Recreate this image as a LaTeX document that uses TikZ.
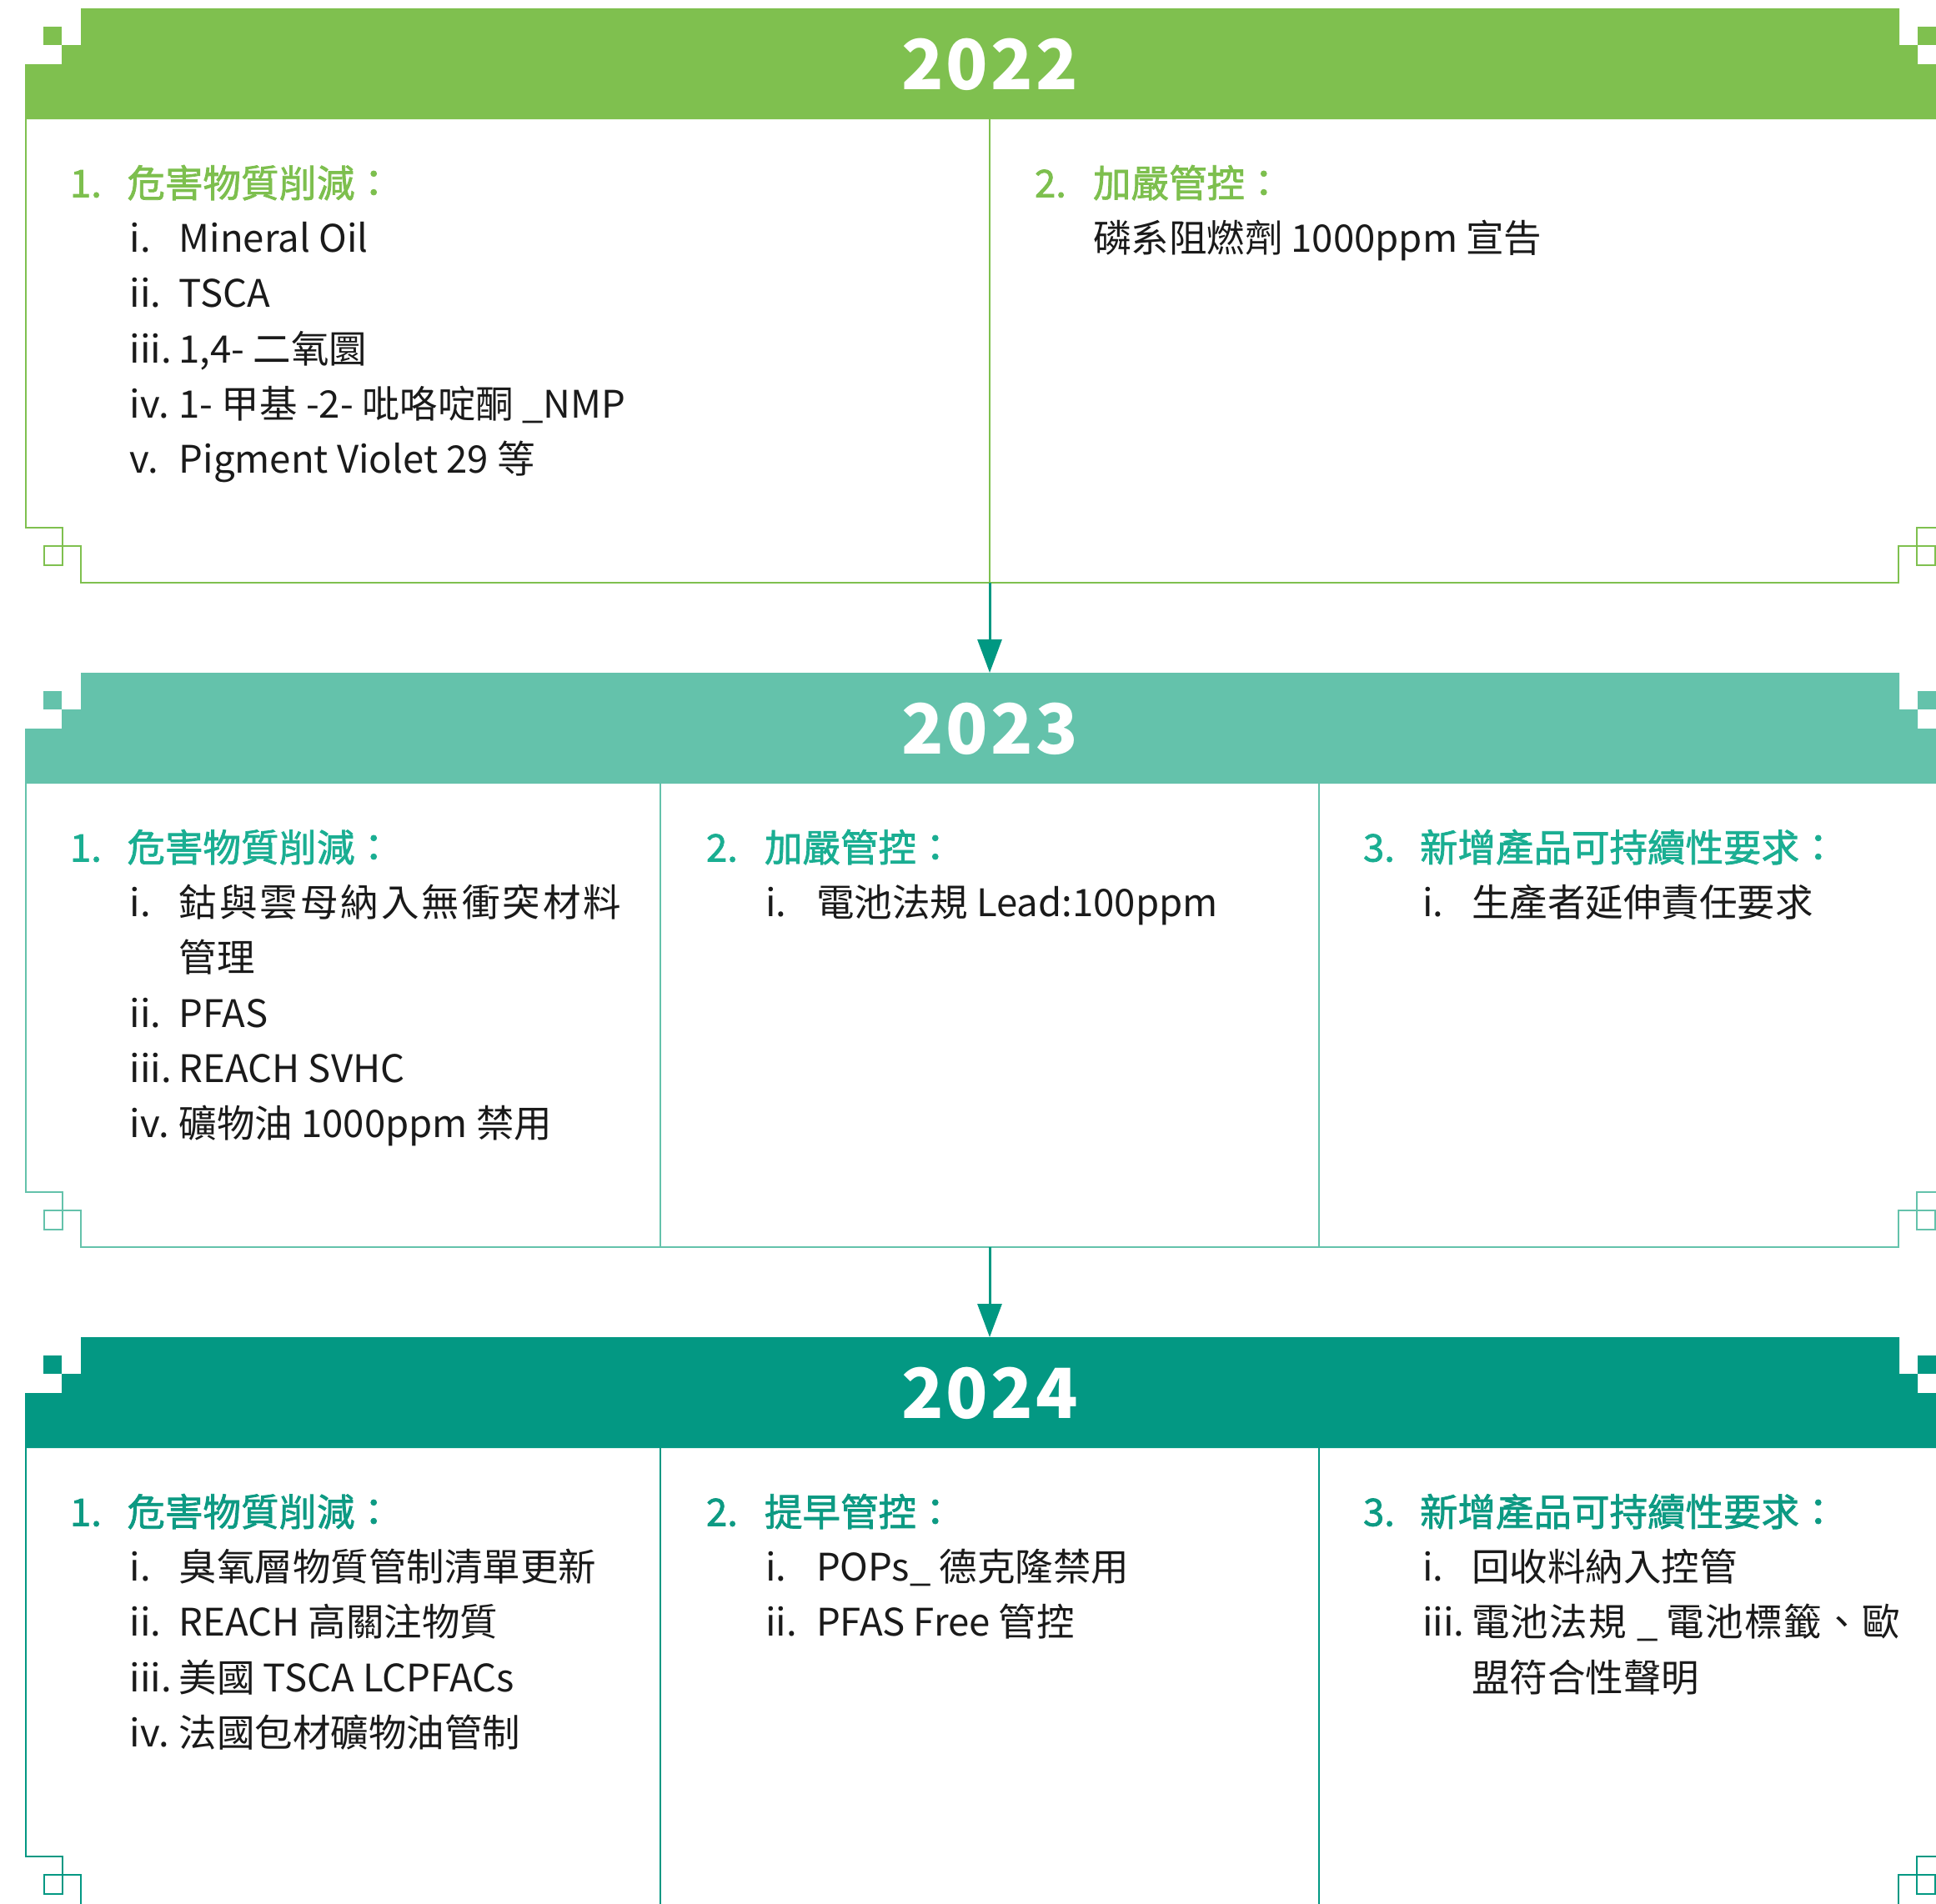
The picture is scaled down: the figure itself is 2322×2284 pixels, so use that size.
\documentclass[tikz,border=0pt]{standalone}
\usepackage{fontspec}
\setmainfont{Noto Sans CJK TC}
\newfontfamily\medfont{Noto Sans CJK TC}[FakeBold=1.6]
\usetikzlibrary{arrows.meta}
\definecolor{gA}{HTML}{7FC04F}
\definecolor{tB}{HTML}{64C2AB}
\definecolor{tC}{HTML}{039883}
\definecolor{hA}{HTML}{7DBF4E}
\definecolor{hB}{HTML}{1AAE92}
\definecolor{hC}{HTML}{0D9A83}
\definecolor{arr}{HTML}{009882}
\definecolor{ink}{HTML}{1A1A1A}
\newcommand\lsp[2]{\def\lspk{#1}\lspA#2\relax}
\def\lspA#1{\ifx\relax#1\else#1\kern\lspk\expandafter\lspA\fi}
\tikzset{
 body/.style={anchor=base west, inner sep=0pt, outer sep=0pt, font=\fontsize{45.5}{50}\selectfont, text=ink},
 head/.style={anchor=base west, inner sep=0pt, outer sep=0pt, font=\medfont\fontsize{45.5}{50}\selectfont},
 headnum/.style={head},
 yearlbl/.style={inner sep=0pt, outer sep=0pt, text=white, font=\fontsize{83}{90}\selectfont\bfseries},
 frameline/.style={line width=2.4pt, line join=miter},
 divline/.style={line width=2pt},
 conn/.style={draw=arr, line width=3pt, -{Triangle[width=29pt,length=40pt]}},
}
\newcommand\blockframe[1]{%
 \fill[#1] (30,143) -- (30,77) -- (74,77) -- (74,54) -- (97,54) -- (97,10) -- (2278,10) -- (2278,54) -- (2300,54) -- (2300,77) -- (2344,77) -- (2344,143) -- cycle;
 \fill[#1] (52,32) rectangle (74,54);
 \fill[#1] (2300,32) rectangle (2322,54);
 \draw[frameline, #1] (31,143) -- (31,633) -- (75,633) -- (75,678) -- (53,678) -- (53,655) -- (97,655) -- (97,699) -- (2277,699) -- (2277,655) -- (2321,655) -- (2321,678) -- (2299,678) -- (2299,633) -- (2343,633) -- (2343,143);
}
\begin{document}
\begin{tikzpicture}[x=1pt, y=-1pt]
\useasboundingbox (0,0) rectangle (2322,2284);
\clip (0,0) rectangle (2322,2284);
\fill[white] (0,0) rectangle (2322,2284);

% ---------------- 2022 ----------------
\blockframe{gA}
\draw[divline, gA] (1187,143) -- (1187,699);
\node[yearlbl] (y22) at (1187,77) {2\kern3pt 0\kern3pt 2\kern3pt 2};
\node[headnum, text=hA] (a1n) at (84,236.5) {1.};
\node[head, text=hA] (a1h) at (152.5,236.5) {危害物質削減：};
\node[body] (a1i1n) at (155.5,302.7) {i.};
\node[body] (a1i1) at (214.7,302.7) {Mineral Oil};
\node[body] (a1i2n) at (155.5,368.9) {ii.};
\node[body] (a1i2) at (214.7,368.9) {TSCA};
\node[body] (a1i3n) at (155.5,435.1) {iii.};
\node[body] (a1i3) at (214.7,435.1) {1,4- 二氧圜};
\node[body] (a1i4n) at (155.5,501.3) {iv.};
\node[body] (a1i4) at (214.7,501.3) {1- 甲基 -2- 吡咯啶酮 \_NMP};
\node[body] (a1i5n) at (155.5,567.5) {v.};
\node[body] (a1i5) at (214.7,567.5) {Pigment Violet 29 等};
\node[headnum, text=hA] (a2n) at (1241,236.5) {2.};
\node[head, text=hA] (a2h) at (1311,236.5) {加嚴管控：};
\node[body] (a2i1) at (1311,302.7) {磷系阻燃劑 1000ppm 宣告};

% ---------------- 2023 ----------------
\begin{scope}[yshift=-797pt]
\blockframe{tB}
\draw[divline, tB] (792,143) -- (792,699);
\draw[divline, tB] (1582,143) -- (1582,699);
\node[yearlbl] (y23) at (1187,77) {2\kern3pt 0\kern3pt 2\kern3pt 3};
\node[headnum, text=hB] (b1n) at (84,236.5) {1.};
\node[head, text=hB] (b1h) at (152.5,236.5) {危害物質削減：};
\node[body] (b1i1n) at (155.5,302.7) {i.};
\node[body] (b1i1) at (214.7,302.7) {\lsp{3pt}{鈷與雲母納入無衝突材料}};
\node[body] (b1i1b) at (214.7,368.9) {管理};
\node[body] (b1i2n) at (155.5,435.1) {ii.};
\node[body] (b1i2) at (214.7,435.1) {PFAS};
\node[body] (b1i3n) at (155.5,501.3) {iii.};
\node[body] (b1i3) at (214.7,501.3) {REACH SVHC};
\node[body] (b1i4n) at (155.5,567.5) {iv.};
\node[body] (b1i4) at (214.7,567.5) {礦物油 1000ppm 禁用};
\node[headnum, text=hB] (b2n) at (847,236.5) {2.};
\node[head, text=hB] (b2h) at (917,236.5) {加嚴管控：};
\node[body] (b2i1n) at (918,302.7) {i.};
\node[body] (b2i1) at (979,302.7) {電池法規 Lead:100ppm};
\node[headnum, text=hB] (b3n) at (1635,236.5) {3.};
\node[head, text=hB] (b3h) at (1703,236.5) {新增產品可持續性要求：};
\node[body] (b3i1n) at (1706,302.7) {i.};
\node[body] (b3i1) at (1765,302.7) {生產者延伸責任要求};
\end{scope}

% ---------------- 2024 ----------------
\begin{scope}[yshift=-1594pt]
\blockframe{tC}
\draw[divline, tC] (792,143) -- (792,699);
\draw[divline, tC] (1582,143) -- (1582,699);
\node[yearlbl] (y24) at (1187,77) {2\kern3pt 0\kern3pt 2\kern3pt 4};
\node[headnum, text=hC] (c1n) at (84,236.5) {1.};
\node[head, text=hC] (c1h) at (152.5,236.5) {危害物質削減：};
\node[body] (c1i1n) at (155.5,302.7) {i.};
\node[body] (c1i1) at (214.7,302.7) {臭氧層物質管制清單更新};
\node[body] (c1i2n) at (155.5,368.9) {ii.};
\node[body] (c1i2) at (214.7,368.9) {REACH 高關注物質};
\node[body] (c1i3n) at (155.5,435.1) {iii.};
\node[body] (c1i3) at (214.7,435.1) {美國 TSCA LCPFACs};
\node[body] (c1i4n) at (155.5,501.3) {iv.};
\node[body] (c1i4) at (214.7,501.3) {法國包材礦物油管制};
\node[headnum, text=hC] (c2n) at (847,236.5) {2.};
\node[head, text=hC] (c2h) at (917,236.5) {提早管控：};
\node[body] (c2i1n) at (918,302.7) {i.};
\node[body] (c2i1) at (979,302.7) {POPs\_ 德克隆禁用};
\node[body] (c2i2n) at (918,368.9) {ii.};
\node[body] (c2i2) at (979,368.9) {PFAS Free 管控};
\node[headnum, text=hC] (c3n) at (1635,236.5) {3.};
\node[head, text=hC] (c3h) at (1703,236.5) {新增產品可持續性要求：};
\node[body] (c3i1n) at (1706,302.7) {i.};
\node[body] (c3i1) at (1765,302.7) {回收料納入控管};
\node[body] (c3i2n) at (1706,368.9) {iii.};
\node[body] (c3i2) at (1765,368.9) {\lsp{1.5pt}{電池法規}\ \_\ \lsp{1.5pt}{電池標籤、歐}};
\node[body] (c3i2b) at (1765,435.1) {盟符合性聲明};
\end{scope}

% ---------------- connectors ----------------
\coordinate (b1bot) at (1187,699);
\coordinate (h2top) at (1187,807);
\coordinate (b2bot) at (1187,1496);
\coordinate (h3top) at (1187,1604);
\draw[conn] (b1bot) -- (h2top);
\draw[conn] (b2bot) -- (h3top);
\end{tikzpicture}
\end{document}
